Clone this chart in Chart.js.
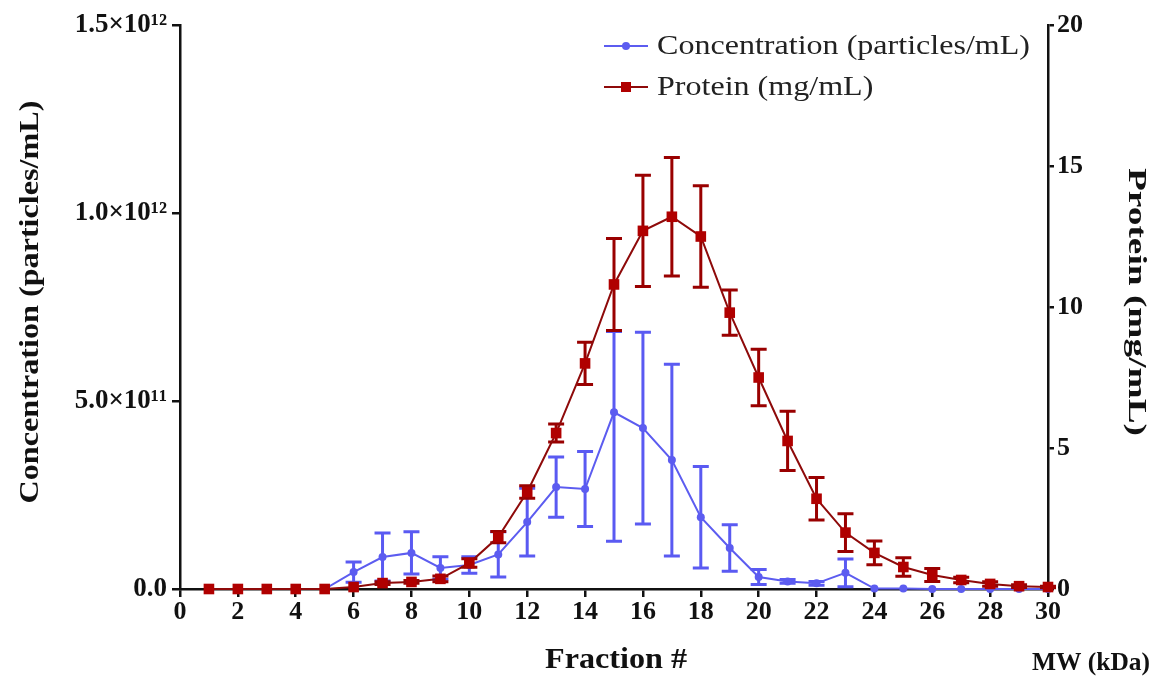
<!DOCTYPE html>
<html>
<head>
<meta charset="utf-8">
<script src="https://cdn.jsdelivr.net/npm/chart.js@4.4.1/dist/chart.umd.min.js"></script>
<style>
  html, body { margin: 0; padding: 0; background: #fff; }
  #wrap { width: 1165px; height: 692px; }
</style>
</head>
<body>
<div id="wrap"><canvas id="c" width="1165" height="692"></canvas></div>
<script>
// ---- data ----
const fractions = [1,2,3,4,5,6,7,8,9,10,11,12,13,14,15,16,17,18,19,20,21,22,23,24,25,26,27,28,29,30];
const concentration = [0,0,0,0,0,0.45e11,0.85e11,0.96e11,0.56e11,0.64e11,0.92e11,1.78e11,2.71e11,2.66e11,4.7e11,4.28e11,3.43e11,1.91e11,1.09e11,0.32e11,0.2e11,0.15e11,0.43e11,0.01e11,0.01e11,0,0,0,0,0];
const concentrationErrUp = [0,0,0,0,0,0.27e11,0.64e11,0.56e11,0.3e11,0.22e11,0.6e11,0.9e11,0.8e11,1.0e11,2.15e11,2.55e11,2.55e11,1.35e11,0.62e11,0.2e11,0.05e11,0.05e11,0.37e11,0,0,0,0,0,0,0];
const concentrationErrDown = [0,0,0,0,0,0.27e11,0.64e11,0.56e11,0.3e11,0.22e11,0.6e11,0.9e11,0.8e11,1.0e11,3.43e11,2.55e11,2.55e11,1.35e11,0.62e11,0.2e11,0.05e11,0.05e11,0.37e11,0,0,0,0,0,0,0];
const protein = [0,0,0,0,0,0.07,0.21,0.25,0.36,0.92,1.84,3.44,5.53,8.0,10.8,12.7,13.2,12.5,9.8,7.5,5.25,3.2,2.0,1.28,0.78,0.5,0.32,0.18,0.1,0.07];
const proteinErr = [0,0,0,0,0,0,0.05,0.05,0.1,0.15,0.2,0.22,0.32,0.75,1.63,1.97,2.1,1.8,0.8,1.0,1.05,0.75,0.67,0.42,0.33,0.23,0.1,0.08,0.05,0.03];
const leftTickLabels = {0: '0.0', 500000000000: '5.0×10¹¹', 1000000000000: '1.0×10¹²', 1500000000000: '1.5×10¹²'};
const rightTicks = [0, 5, 10, 15, 20];
const seriesNames = ['Concentration (particles/mL)', 'Protein (mg/mL)'];
const xTitle = 'Fraction #';
const leftTitle = 'Concentration (particles/mL)';
const rightTitle = 'Protein (mg/mL)';
const extraLabel = 'MW (kDa)';

const BLUE = '#5c5cf0';
const BLUE_ERR = '#5a5af2';
const RED = '#8e0a0a';
const RED_MK = '#b00000';
const FONT = '"Liberation Serif", "Times New Roman", serif';

// draw text stretched along its baseline to a given length
function stretchedText(ctx, text, font, cx, cy, rot, len) {
  ctx.save();
  ctx.font = font;
  ctx.textAlign = 'center';
  ctx.textBaseline = 'middle';
  const w = ctx.measureText(text).width;
  ctx.translate(cx, cy);
  ctx.rotate(rot);
  ctx.scale(len / w, 1);
  ctx.fillText(text, 0, 0);
  ctx.restore();
}

const errPlugin = {
  id: 'errbars',
  beforeDatasetDraw(chart, args) {
    const ds = chart.data.datasets[args.index];
    if (!ds.errUp) return;
    const ys = chart.scales[ds.yAxisID];
    const xs = chart.scales.x;
    const ctx = chart.ctx;
    ctx.save();
    ctx.strokeStyle = ds.errColor;
    ctx.lineWidth = 3;
    ds.data.forEach((p, i) => {
      const eu = ds.errUp[i], ed = ds.errDown[i];
      if (!eu && !ed) return;
      const x = xs.getPixelForValue(p.x);
      const t = ys.getPixelForValue(p.y + eu);
      const b = ys.getPixelForValue(Math.max(p.y - ed, 0));
      ctx.beginPath();
      ctx.moveTo(x, t); ctx.lineTo(x, b);
      ctx.moveTo(x - 8, t); ctx.lineTo(x + 8, t);
      ctx.moveTo(x - 8, b); ctx.lineTo(x + 8, b);
      ctx.stroke();
    });
    ctx.restore();
  },
  afterDraw(chart) {
    const ctx = chart.ctx;
    ctx.save();
    // legend
    const items = [
      {name: seriesNames[0], color: BLUE, mk: BLUE, shape: 'circle', y: 46},
      {name: seriesNames[1], color: RED, mk: RED_MK, shape: 'rect', y: 87}
    ];
    const legendFont = '28px ' + FONT;
    ctx.font = legendFont;
    const legendScale = 373 / ctx.measureText(seriesNames[0]).width;
    items.forEach(it => {
      ctx.strokeStyle = it.color;
      ctx.lineWidth = 2;
      ctx.beginPath(); ctx.moveTo(604, it.y); ctx.lineTo(648, it.y); ctx.stroke();
      ctx.fillStyle = it.mk;
      if (it.shape === 'circle') { ctx.beginPath(); ctx.arc(626, it.y, 4, 0, Math.PI * 2); ctx.fill(); }
      else { ctx.fillRect(621, it.y - 5, 10, 10); }
      ctx.save();
      ctx.fillStyle = '#222';
      ctx.font = legendFont;
      ctx.textBaseline = 'middle';
      ctx.textAlign = 'left';
      ctx.translate(657, it.y + 1);
      ctx.scale(legendScale, 1);
      ctx.fillText(it.name, 0, 0);
      ctx.restore();
    });
    ctx.fillStyle = '#111';
    stretchedText(ctx, xTitle, 'bold 30px ' + FONT, 616, 660, 0, 142);
    stretchedText(ctx, leftTitle, 'bold 28px ' + FONT, 31, 302, -Math.PI / 2, 403);
    stretchedText(ctx, rightTitle, 'bold 25px ' + FONT, 1135, 302, Math.PI / 2, 268);
    stretchedText(ctx, extraLabel, 'bold 25px ' + FONT, 1091, 664, 0, 118);
    ctx.restore();
  }
};

const xTickFont = {family: FONT, size: 26, weight: 'bold'};
const leftTickFont = {family: FONT, size: 27, weight: 'bold'};
const rightTickFont = {family: FONT, size: 26, weight: 'bold'};

new Chart(document.getElementById('c'), {
  type: 'line',
  data: {
    datasets: [
      {
        label: seriesNames[1],
        data: fractions.map((f, i) => ({x: f, y: protein[i]})),
        errUp: proteinErr,
        errDown: proteinErr,
        errColor: '#990000',
        yAxisID: 'y1',
        borderColor: RED,
        borderWidth: 2,
        backgroundColor: RED_MK,
        pointBackgroundColor: RED_MK,
        pointBorderColor: RED_MK,
        pointStyle: 'rect',
        pointRadius: 7.5,
        pointBorderWidth: 0,
        tension: 0,
        order: 0
      },
      {
        label: seriesNames[0],
        data: fractions.map((f, i) => ({x: f, y: concentration[i]})),
        errUp: concentrationErrUp,
        errDown: concentrationErrDown,
        errColor: BLUE_ERR,
        yAxisID: 'y',
        borderColor: BLUE,
        borderWidth: 2,
        backgroundColor: BLUE,
        pointBackgroundColor: BLUE,
        pointBorderColor: BLUE,
        pointStyle: 'circle',
        pointRadius: 4,
        pointBorderWidth: 0,
        tension: 0,
        order: 1
      }
    ]
  },
  options: {
    responsive: false,
    animation: false,
    devicePixelRatio: 1,
    clip: false,
    layout: {padding: {top: 25, left: 0, right: 0, bottom: 0}},
    plugins: {legend: {display: false}, tooltip: {enabled: false}},
    scales: {
      x: {
        type: 'linear', position: 'bottom', min: 0, max: 30,
        afterFit(s) { s.height = 103; },
        ticks: {stepSize: 2, font: xTickFont, color: '#111', padding: 0, maxRotation: 0, autoSkip: false},
        grid: {drawOnChartArea: false, drawTicks: true, tickLength: 8, color: '#111', lineWidth: 2.5},
        border: {display: true, color: '#111', width: 2.5},
        title: {display: false}
      },
      y: {
        type: 'linear', position: 'left', min: 0, max: 1.5e12,
        afterFit(s) { s.width = 180; },
        afterBuildTicks(s) { s.ticks = Object.keys(leftTickLabels).map(v => ({value: +v})); },
        ticks: {font: leftTickFont, color: '#111', padding: 5, callback: v => leftTickLabels[v]},
        grid: {drawOnChartArea: false, drawTicks: true, tickLength: 8, color: '#111', lineWidth: 2.5},
        border: {display: true, color: '#111', width: 2.5},
        title: {display: false}
      },
      y1: {
        type: 'linear', position: 'right', min: 0, max: 20,
        afterFit(s) { s.width = 117; },
        afterBuildTicks(s) { s.ticks = rightTicks.map(v => ({value: v})); },
        ticks: {font: rightTickFont, color: '#111', padding: 3},
        grid: {drawOnChartArea: false, drawTicks: true, tickLength: 6, color: '#111', lineWidth: 2.5},
        border: {display: true, color: '#111', width: 2.5},
        title: {display: false}
      }
    }
  },
  plugins: [errPlugin]
});
</script>
</body>
</html>
